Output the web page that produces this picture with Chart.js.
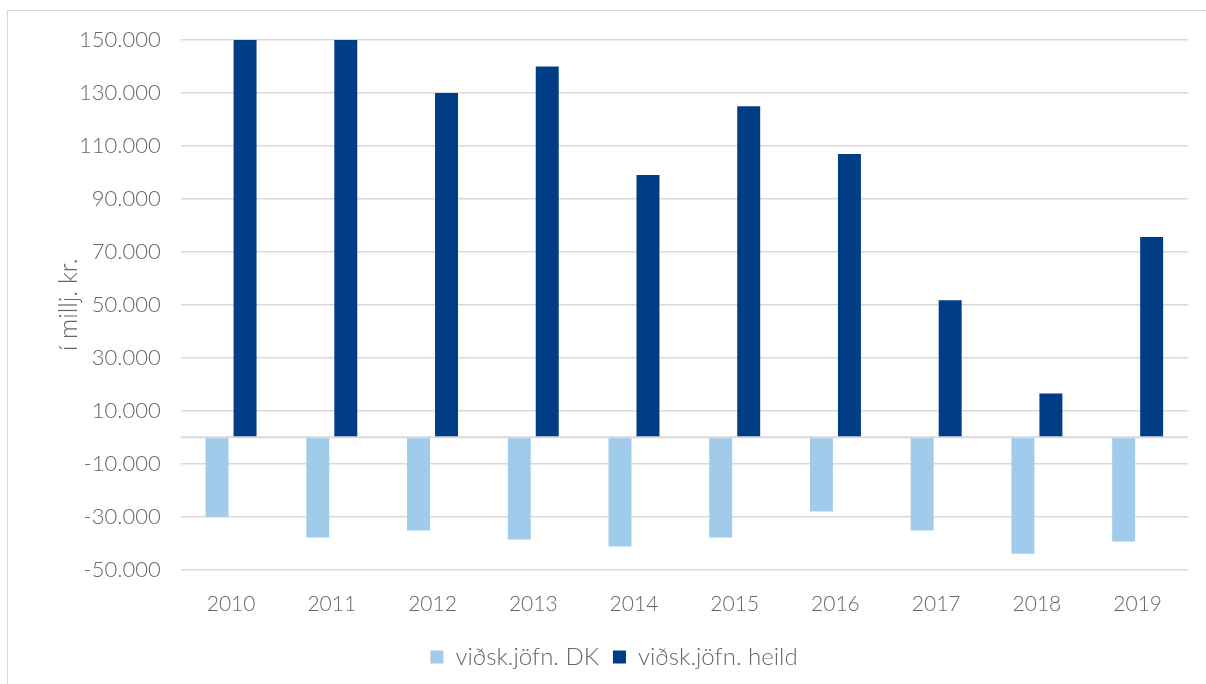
<!DOCTYPE html>
<html>
<head>
<meta charset="utf-8">
<script src="https://cdn.jsdelivr.net/npm/chart.js@4"></script>
<style>
    html, body { margin: 0; padding: 0; background: #fff; }
    #frame {
        position: absolute; left: 7px; top: 10px; width: 1220px; height: 700px;
        border: 1.5px solid #d9d9d9; box-sizing: border-box;
    }
    #wrap { position: absolute; left: 0; top: 0; width: 1206px; height: 684px; }
</style>
</head>
<body>
<div id="frame"></div>
<div id="wrap"><canvas id="chart"></canvas></div>
<script>
const years = ['2010', '2011', '2012', '2013', '2014', '2015', '2016', '2017', '2018', '2019'];
const dkValues = [-30000, -37800, -35200, -38600, -41200, -37800, -28000, -35200, -43900, -39300];
const heildValues = [150000, 150000, 130000, 140000, 99000, 125000, 107000, 51800, 16600, 75600];
const seriesLabels = ['viðsk.jöfn. DK', 'viðsk.jöfn. heild'];
const yTitle = 'í millj. kr.';

const textColor = '#666666';
const fontFamily = 'Lato, "Open Sans", sans-serif';

function formatThousands(value) {
    const sign = value < 0 ? '-' : '';
    return sign + Math.abs(value).toString().replace(/\B(?=(\d{3})+(?!\d))/g, '.');
}

const ctx = document.getElementById('chart').getContext('2d');
new Chart(ctx, {
    type: 'bar',
    data: {
        labels: years,
        datasets: [{
            label: seriesLabels[0],
            data: dkValues,
            backgroundColor: '#a1cbeb'
        }, {
            label: seriesLabels[1],
            data: heildValues,
            backgroundColor: '#003d85'
        }]
    },
    options: {
        responsive: true,
        maintainAspectRatio: false,
        animation: false,
        categoryPercentage: 0.556,
        barPercentage: 0.82,
        layout: { padding: { left: 40, right: 18, top: 40, bottom: 5 } },
        plugins: {
            legend: {
                position: 'bottom',
                labels: {
                    color: textColor,
                    font: { family: fontFamily, size: 24, weight: 300 },
                    boxWidth: 13,
                    boxHeight: 13,
                    padding: 14
                }
            },
            tooltip: { enabled: false }
        },
        scales: {
            x: {
                grid: { display: false },
                border: { display: false },
                ticks: {
                    color: textColor,
                    font: { family: fontFamily, size: 21, weight: 300 },
                    padding: 14
                }
            },
            y: {
                min: -50000,
                max: 150000,
                ticks: {
                    stepSize: 20000,
                    color: textColor,
                    font: { family: fontFamily, size: 22, weight: 300 },
                    padding: 20,
                    callback: value => formatThousands(value)
                },
                grid: {
                    color: '#d9d9d9',
                    lineWidth: 1.5,
                    drawTicks: false
                },
                border: { display: false },
                title: {
                    display: true,
                    text: yTitle,
                    color: textColor,
                    font: { family: fontFamily, size: 25, weight: 300 },
                    padding: { top: 14, bottom: -25 }
                }
            }
        }
    },
    plugins: [{
        id: 'zeroLine',
        afterDatasetsDraw(chart) {
            const y = chart.scales.y.getPixelForValue(0);
            const area = chart.chartArea;
            const c = chart.ctx;
            c.save();
            c.strokeStyle = '#d9d9d9';
            c.lineWidth = 2;
            c.beginPath();
            c.moveTo(area.left, y);
            c.lineTo(area.right, y);
            c.stroke();
            c.restore();
        }
    }]
});
</script>
</body>
</html>
